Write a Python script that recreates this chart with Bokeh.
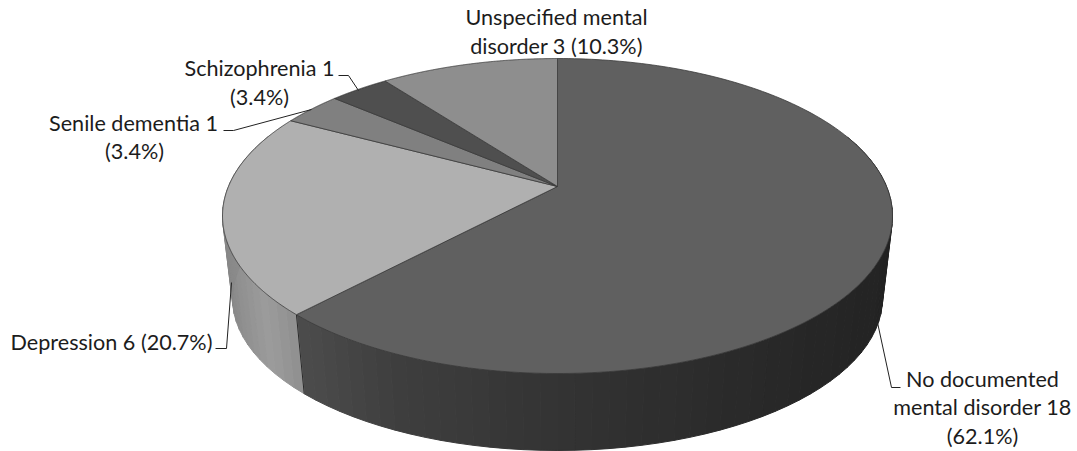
import numpy as np
from bokeh.core.properties import value
from bokeh.embed import file_html
from bokeh.models import ColumnDataSource, Range1d
from bokeh.plotting import figure
from bokeh.resources import INLINE

# Slices, clockwise from twelve o'clock
categories = ["No documented mental disorder", "Depression", "Senile dementia",
              "Schizophrenia", "Unspecified mental disorder"]
counts = [18, 6, 1, 1, 3]
top_colors = ["#606060", "#b0b0b0", "#808080", "#4f4f4f", "#8e8e8e"]

label_lines = ["Unspecified mental", "disorder 3 (10.3%)",
               "Schizophrenia 1", "(3.4%)",
               "Senile dementia 1", "(3.4%)",
               "Depression 6 (20.7%)",
               "No documented", "mental disorder 18", "(62.1%)"]
label_x = [556, 556, 259, 259, 133, 134, 111, 982, 982, 982]
label_y = [16, 45, 67, 96, 122, 150, 341, 378, 406, 435]

leader_xs = [[338, 348, 358], [223, 233, 311], [215, 226, 231], [877, 891, 900]]
leader_ys = [[75, 75, 90], [130, 130, 109], [348, 348, 282], [322, 387, 387]]

# Projected disc geometry, in page pixels
CX, CY, RX, RY = 557.0, 215.5, 335.0, 157.5
APEX_Y = 186.0
ASPECT = 2.15
LOW_CY, LOW_RX, LOW_RY = 298.0, 325.0, 152.0


def rim_phase(theta):
    """Ellipse parameter where the ray at pie angle theta meets the top rim."""
    dx, dy = np.sin(theta) * ASPECT, -np.cos(theta)
    ax, ay = dx / RX, dy / RY
    oy = (APEX_Y - CY) / RY
    a = ax * ax + ay * ay
    b = 2 * ay * oy
    c = oy * oy - 1
    t = (-b + np.sqrt(b * b - 4 * a * c)) / (2 * a)
    return np.arctan2(oy + ay * t, ax * t)


def top_pt(phi):
    return CX + RX * np.cos(phi), CY + RY * np.sin(phi)


def low_pt(phi):
    return CX + LOW_RX * np.cos(phi), LOW_CY + LOW_RY * np.sin(phi)


def grey(level):
    v = int(round(level))
    return f"#{v:02x}{v:02x}{v:02x}"


fractions = np.cumsum([0] + counts) / sum(counts)
angles = fractions * 2 * np.pi
phases = [rim_phase(a) for a in angles]

p = figure(width=1077, height=451, output_backend="svg", toolbar_location=None,
           x_range=Range1d(0, 1077), y_range=Range1d(451, 0),
           min_border=0, outline_line_color=None, background_fill_color="white",
           border_fill_color="white")
p.axis.visible = False
p.grid.visible = False

# Front wall of the disc, shaded in bands
boundary = phases[1] if phases[1] > 0 else phases[1] + 2 * np.pi
band_phi = np.r_[np.radians(np.arange(-30, np.degrees(boundary), 3.0)), boundary,
                 np.radians(np.arange(np.degrees(boundary) + 3.0, 212, 3.0))]
xs, ys, cols = [], [], []
for a, b in zip(band_phi[:-1], band_phi[1:]):
    tx0, ty0 = top_pt(a)
    tx1, ty1 = top_pt(b)
    lx0, ly0 = low_pt(a)
    lx1, ly1 = low_pt(b)
    xs.append([tx0, tx1, lx1, lx0])
    ys.append([ty0, ty1, ly1, ly0])
    mid_x = (tx0 + tx1) / 2
    if (a + b) / 2 < boundary:
        level = np.interp(mid_x, [297, 400, 560, 800, 890], [76, 62, 51, 39, 35])
    else:
        level = np.interp(mid_x, [222, 240, 265, 297], [136, 146, 156, 142])
    cols.append(grey(level))
p.patches(xs, ys, fill_color=cols, line_color=cols, line_width=1.0)

# Wall edge between the two visible slices
bx0, by0 = top_pt(boundary)
bx1, by1 = low_pt(boundary)
p.line([bx0, bx1], [by0, by1], line_color="#2a2a2a", line_width=1)

# Top face
for i in range(len(counts)):
    start, end = phases[i], phases[i + 1]
    while end < start:
        end += 2 * np.pi
    phi = np.linspace(start, end, 240)
    rx, ry = top_pt(phi)
    p.patch(np.r_[CX, rx], np.r_[APEX_Y, ry], fill_color=top_colors[i],
            line_color="#3a3a3a", line_width=0.8, line_join="round")

# Leader lines and labels
p.multi_line(leader_xs, leader_ys, line_color="#222222", line_width=1)
src = ColumnDataSource(dict(x=label_x, y=label_y, text=label_lines))
p.text("x", "y", "text", source=src, text_font=value("Lato"), text_font_size="21.6px",
       text_color="#1c1c1c", text_align="center", text_baseline="alphabetic")

open("out.html", "w").write(file_html(p, INLINE))
